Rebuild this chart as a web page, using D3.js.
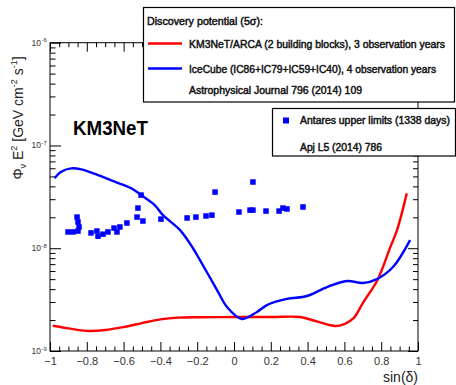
<!DOCTYPE html>
<html>
<head>
<meta charset="utf-8">
<script src="https://cdn.jsdelivr.net/npm/d3@7"></script>
<style>
  body { margin: 0; background: #fff; }
  svg { display: block; font-family: "Liberation Sans", Arial, sans-serif; }
</style>
</head>
<body>
<svg width="456" height="385"></svg>
<script>
// KM3NeT/ARCA discovery potential (5 sigma), 3 years
const arcaSin  = [-0.985, -0.9, -0.8, -0.7, -0.6, -0.5, -0.4, -0.3, -0.2, 0, 0.2, 0.36, 0.45, 0.55, 0.6, 0.65, 0.7, 0.78, 0.85, 0.886, 0.939];
const arcaFlux = [1.76e-9, 1.66e-9, 1.57e-9, 1.60e-9, 1.71e-9, 1.87e-9, 2.03e-9, 2.11e-9, 2.13e-9, 2.14e-9, 2.14e-9, 2.14e-9, 1.94e-9, 1.75e-9, 1.83e-9, 2.09e-9, 2.93e-9, 4.91e-9, 1.03e-8, 1.50e-8, 3.42e-8];

// IceCube discovery potential, 4 years
const icecubeSin  = [-0.975, -0.939, -0.884, -0.83, -0.739, -0.648, -0.558, -0.504, -0.431, -0.386, -0.293, -0.223, -0.185, -0.092, -0.038, 0.043, 0.125, 0.179, 0.288, 0.397, 0.505, 0.614, 0.701, 0.777, 0.864, 0.957];
const icecubeFlux = [4.79e-8, 5.55e-8, 5.99e-8, 5.86e-8, 5.15e-8, 4.44e-8, 3.83e-8, 3.29e-8, 2.63e-8, 2.10e-8, 1.50e-8, 1.00e-8, 7.67e-9, 3.92e-9, 2.68e-9, 2.05e-9, 2.40e-9, 2.80e-9, 3.21e-9, 3.43e-9, 4.19e-9, 4.80e-9, 4.59e-9, 5.01e-9, 6.56e-9, 1.20e-8];

// Antares upper limits (1338 days)
const antaresSin  = [-0.902, -0.875, -0.848, -0.842, -0.848, -0.853, -0.777, -0.745, -0.739, -0.712, -0.685, -0.652, -0.636, -0.62, -0.582, -0.522, -0.527, -0.495, -0.505, -0.397, -0.255, -0.207, -0.152, -0.12, -0.103, 0.027, 0.087, 0.103, 0.103, 0.174, 0.245, 0.266, 0.288, 0.375];
const antaresFlux = [1.44e-8, 1.44e-8, 1.47e-8, 1.61e-8, 1.80e-8, 2.01e-8, 1.41e-8, 1.47e-8, 1.31e-8, 1.37e-8, 1.44e-8, 1.57e-8, 1.44e-8, 1.61e-8, 1.76e-8, 2.46e-8, 2.01e-8, 1.84e-8, 3.29e-8, 1.92e-8, 1.97e-8, 2.01e-8, 2.06e-8, 2.10e-8, 3.52e-8, 2.25e-8, 2.35e-8, 4.41e-8, 2.35e-8, 2.30e-8, 2.30e-8, 2.46e-8, 2.41e-8, 2.52e-8];

const xMajor = [-1, -0.8, -0.6, -0.4, -0.2, 0, 0.2, 0.4, 0.6, 0.8, 1];
const yDecades = [-9, -8, -7, -6];

const svg = d3.select("svg");
const pLeft = 50, pRight = 418, pTop = 42.7, pBottom = 351;

const x = d3.scaleLinear().domain([-1, 1]).range([pLeft, pRight]);
const y = d3.scaleLog().domain([1e-9, 1e-6]).range([pBottom, pTop]);

// минорные деления
const xMinor = d3.range(-1, 1.0001, 0.05).map(v => +v.toFixed(2)).filter(v => !xMajor.includes(v));
const yMajor = yDecades.map(e => Math.pow(10, e));
const yMinor = [];
yDecades.slice(0, 3).forEach(e => { for (let k = 2; k <= 9; k++) yMinor.push(k * Math.pow(10, e)); });

function drawAxis(axis, tx, ty) {
  const g = svg.append("g").attr("transform", `translate(${tx},${ty})`).call(axis);
  g.select(".domain").remove();
  g.selectAll("line").attr("stroke", "#000");
  return g;
}

// bottom
const gb = drawAxis(d3.axisBottom(x).tickValues(xMajor).tickSize(-9).tickPadding(6).tickFormat(d => d3.format("")(d)), 0, pBottom);
gb.selectAll("text").attr("font-size", 11).attr("fill", "#333").attr("font-family", "Liberation Sans, Arial");
drawAxis(d3.axisBottom(x).tickValues(xMinor).tickSize(-4.5).tickFormat(""), 0, pBottom);
// top
drawAxis(d3.axisBottom(x).tickValues(xMajor).tickSize(9).tickFormat(""), 0, pTop);
drawAxis(d3.axisBottom(x).tickValues(xMinor).tickSize(4.5).tickFormat(""), 0, pTop);
// left
drawAxis(d3.axisRight(y).tickValues(yMajor).tickSize(11).tickFormat(""), pLeft, 0);
drawAxis(d3.axisRight(y).tickValues(yMinor).tickSize(5.5).tickFormat(""), pLeft, 0);
// right
drawAxis(d3.axisLeft(y).tickValues(yMajor).tickSize(10).tickFormat(""), pRight, 0);
drawAxis(d3.axisLeft(y).tickValues(yMinor).tickSize(5).tickFormat(""), pRight, 0);

// frame
svg.append("rect").attr("x", pLeft).attr("y", pTop).attr("width", pRight - pLeft).attr("height", pBottom - pTop)
  .attr("fill", "none").attr("stroke", "#000").attr("stroke-width", 1);

// y tick labels 10^n
yDecades.forEach(e => {
  svg.append("text").attr("x", 41).attr("y", y(Math.pow(10, e)) + 3)
    .attr("text-anchor", "end").attr("font-size", 8.5).attr("fill", "#333").text("10");
  svg.append("text").attr("x", 41.5).attr("y", y(Math.pow(10, e)) - 0.5)
    .attr("font-size", 6).attr("fill", "#333").text(String(e));
});

// y axis title
const yt = svg.append("text").attr("transform", "translate(23,118) rotate(-90)")
  .attr("text-anchor", "middle").attr("font-size", 14).attr("fill", "#222");
yt.append("tspan").text("Φ");
yt.append("tspan").attr("font-size", 9).attr("dy", 3).text("ν");
yt.append("tspan").attr("dy", -3).text(" E");
yt.append("tspan").attr("font-size", 9).attr("dy", -6).text("2");
yt.append("tspan").attr("dy", 6).text(" [GeV cm");
yt.append("tspan").attr("font-size", 9).attr("dy", -6).text("-2");
yt.append("tspan").attr("dy", 6).text(" s");
yt.append("tspan").attr("font-size", 9).attr("dy", -6).text("-1");
yt.append("tspan").attr("dy", 6).text("]");

// x axis title
svg.append("text").attr("x", pRight).attr("y", 382).attr("text-anchor", "end")
  .attr("font-size", 14).attr("fill", "#222").text("sin(δ)");

// curves
const line = d3.line().x(d => x(d[0])).y(d => y(d[1])).curve(d3.curveCatmullRom.alpha(0.5));
svg.append("path").datum(d3.zip(arcaSin, arcaFlux)).attr("d", line)
  .attr("fill", "none").attr("stroke", "#ff0000").attr("stroke-width", 2.4);
svg.append("path").datum(d3.zip(icecubeSin, icecubeFlux)).attr("d", line)
  .attr("fill", "none").attr("stroke", "#0000ff").attr("stroke-width", 2.4);

// Antares markers
const ms = 5.5;
svg.append("g").selectAll("rect").data(d3.zip(antaresSin, antaresFlux)).join("rect")
  .attr("x", d => x(d[0]) - ms / 2).attr("y", d => y(d[1]) - ms / 2)
  .attr("width", ms).attr("height", ms).attr("fill", "#0000ff");

// KM3NeT label
svg.append("text").attr("x", 73).attr("y", 135).attr("font-size", 20).attr("font-weight", "bold")
  .attr("textLength", 75).attr("lengthAdjust", "spacingAndGlyphs").attr("fill", "#000").text("KM3NeT");

// legend 1
svg.append("rect").attr("x", 143.5).attr("y", 7.5).attr("width", 311).attr("height", 94.5)
  .attr("fill", "#fff").attr("stroke", "#000").attr("stroke-width", 1.2);
function legText(tx, ty, s, len) {
  svg.append("text").attr("x", tx).attr("y", ty)
    .attr("font-size", 10)
    .attr("fill", "#111").attr("stroke", "#111").attr("stroke-width", 0.45)
    .attr("textLength", len).attr("lengthAdjust", "spacingAndGlyphs").text(s);
}
legText(147, 25, "Discovery potential (5σ):", 116);
svg.append("line").attr("x1", 148).attr("x2", 182).attr("y1", 43.5).attr("y2", 43.5).attr("stroke", "#ff0000").attr("stroke-width", 2.5);
legText(189, 47.5, "KM3NeT/ARCA (2 building blocks), 3 observation years", 256);
svg.append("line").attr("x1", 148).attr("x2", 182).attr("y1", 68.5).attr("y2", 68.5).attr("stroke", "#0000ff").attr("stroke-width", 2.5);
legText(189, 72.5, "IceCube (IC86+IC79+IC59+IC40), 4 observation years", 247);
legText(189, 94, "Astrophysical Journal 796 (2014) 109", 173);

// legend 2
svg.append("rect").attr("x", 272.5).attr("y", 108.5).attr("width", 183).attr("height", 47.5)
  .attr("fill", "#fff").attr("stroke", "#000").attr("stroke-width", 1.2);
svg.append("rect").attr("x", 283).attr("y", 117.5).attr("width", 6).attr("height", 6).attr("fill", "#0000ff");
legText(300, 124, "Antares upper limits (1338 days)", 150);
legText(300, 151, "Apj L5 (2014) 786", 82);
</script>
</body>
</html>
